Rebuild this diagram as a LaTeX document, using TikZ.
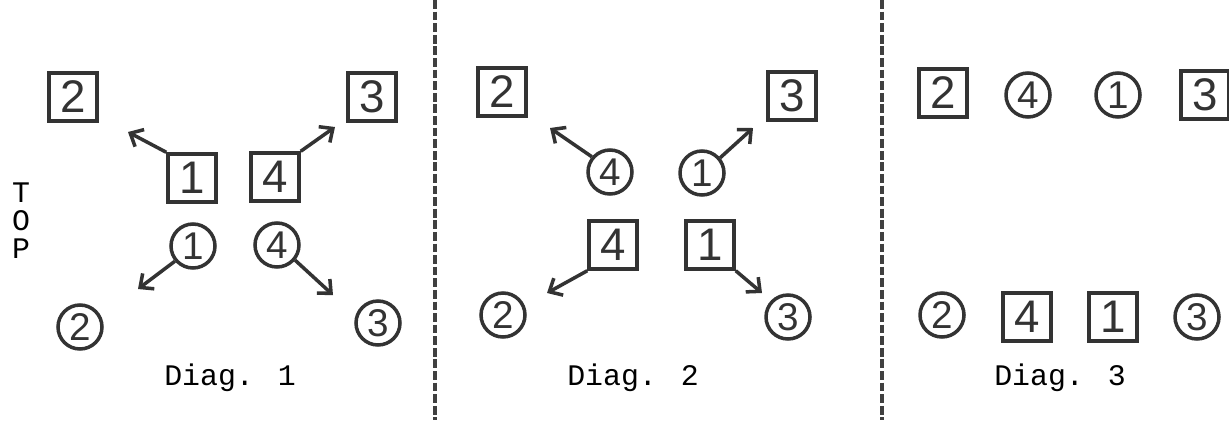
\documentclass[tikz,border=0pt]{standalone}
\usepackage{fontspec}
\setmainfont{Liberation Sans}
\newfontfamily\typew{Liberation Mono}
\usetikzlibrary{arrows.meta}
\begin{document}
\begin{tikzpicture}[x=0.02cm,y=-0.02cm,
  ink/.style={draw=black!80, line width=2pt},
  sq/.style={ink, rectangle, minimum size=0.96cm, inner sep=0pt, font=\fontsize{26}{26}\selectfont, text=black!80},
  ci/.style={ink, circle, minimum size=0.88cm, inner sep=0pt, font=\fontsize{22}{22}\selectfont, text=black!80},
  lab/.style={font=\typew\fontsize{17}{17}\selectfont, text=black},
  mv/.style={ink, -{Straight Barb[length=6pt,width=11pt,line width=2pt]}},
  sep/.style={draw=black!75, line width=1.8pt, dash pattern=on 5pt off 1.6pt}]
\useasboundingbox (0,0) rectangle (1229,420);
% separators
\draw[sep] (435,0) -- (435,420);
\draw[sep] (882,0) -- (882,420);
% TOP label
\node[lab, align=center, font=\typew\fontsize{17}{16}\selectfont] (top) at (21,221) {T\\O\\P};
% ---------- Diag. 1
\node[sq] (a2s) at (73,97) {2};
\node[sq] (a3s) at (372,97) {3};
\node[sq] (a1s) at (192,178) {1};
\node[sq] (a4s) at (275,177) {4};
\node[ci] (a1c) at (193,246) {1};
\node[ci] (a4c) at (277,245) {4};
\node[ci] (a2c) at (80,327) {2};
\node[ci] (a3c) at (378,323) {3};
\node[lab] (d1) at (230,378) {Diag. 1};
\coordinate (a1t) at (128,132);
\coordinate (a4t) at (335,127);
\coordinate (a1ct) at (138,289);
\coordinate (a4ct) at (333,295);
\draw[mv] (a1s.north west) -- (a1t);
\draw[mv] (a4s.north east) -- (a4t);
\draw[mv] (a1c.220) -- (a1ct);
\draw[mv] (a4c.-40) -- (a4ct);
% ---------- Diag. 2
\node[sq] (b2s) at (502,92) {2};
\node[sq] (b3s) at (792,96) {3};
\node[ci] (b4c) at (610,172) {4};
\node[ci] (b1c) at (702,173) {1};
\node[sq] (b4s) at (613,245) {4};
\node[sq] (b1s) at (710,245) {1};
\node[ci] (b2c) at (503,315) {2};
\node[ci] (b3c) at (788,317) {3};
\node[lab] (d2) at (633,378) {Diag. 2};
\coordinate (b4t) at (550,128);
\coordinate (b1t) at (753,128);
\coordinate (b4st) at (547,293);
\coordinate (b1st) at (762,293);
\draw[mv] (b4c.140) -- (b4t);
\draw[mv] (b1c.40) -- (b1t);
\draw[mv] (b4s.south west) -- (b4st);
\draw[mv] (b1s.south east) -- (b1st);
% ---------- Diag. 3
\node[sq] (c2s) at (943,93) {2};
\node[ci] (c4c) at (1028,95) {4};
\node[ci] (c1c) at (1118,95) {1};
\node[sq] (c3s) at (1205,95) {3};
\node[ci] (c2c) at (942,315) {2};
\node[sq] (c4s) at (1027,317) {4};
\node[sq] (c1s) at (1113,317) {1};
\node[ci] (c3c) at (1197,317) {3};
\node[lab] (d3) at (1060,378) {Diag. 3};
\end{tikzpicture}
\end{document}
